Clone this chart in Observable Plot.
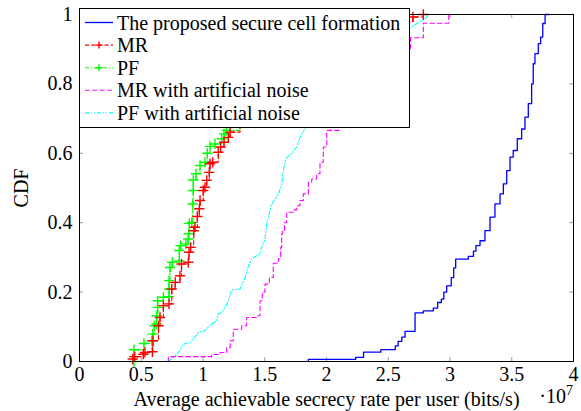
<!DOCTYPE html>
<html><head><meta charset="utf-8">
<script src="https://cdn.jsdelivr.net/npm/d3@7"></script>
<script src="https://cdn.jsdelivr.net/npm/@observablehq/plot@0.6"></script>
<style>body{margin:0;background:#fff;} svg{font-family:"Liberation Serif", serif;}</style>
</head><body><div id="chart"></div>
<script>
const seriesNames = ["The proposed secure cell formation", "MR", "PF", "MR with artificial noise", "PF with artificial noise"];
const xLabel = "Average achievable secrecy rate per user (bits/s)";
const yLabel = "CDF";
const xTicks = [0, 0.5, 1, 1.5, 2, 2.5, 3, 3.5, 4];
const yTicks = [0, 0.2, 0.4, 0.6, 0.8, 1];

// The proposed secure cell formation
const propX = [1.853, 1.853, 2.236, 2.30, 2.44, 2.557, 2.58, 2.61, 2.636, 2.717, 2.784, 2.865, 2.9, 2.93, 2.95, 2.973, 3.01, 3.03, 3.046, 3.148, 3.19, 3.21, 3.243, 3.283, 3.324, 3.364, 3.405, 3.432, 3.459, 3.486, 3.512, 3.545, 3.58, 3.607, 3.634, 3.661, 3.674, 3.688, 3.715, 3.734, 3.751, 3.77, 3.804];
const propY = [0, 0.006, 0.012, 0.027, 0.034, 0.045, 0.058, 0.07, 0.087, 0.14, 0.146, 0.154, 0.17, 0.18, 0.2, 0.218, 0.242, 0.27, 0.295, 0.303, 0.318, 0.334, 0.348, 0.377, 0.416, 0.454, 0.483, 0.512, 0.55, 0.589, 0.608, 0.642, 0.67, 0.704, 0.743, 0.80, 0.858, 0.887, 0.916, 0.935, 0.974, 1.0, 1.0];
// MR
const mrX = [0.431, 0.447, 0.517, 0.53, 0.59, 0.595, 0.64, 0.652, 0.679, 0.725, 0.747, 0.775, 0.814, 0.826, 0.881, 0.887, 0.90, 0.925, 0.935, 0.954, 0.97, 0.976, 1.002, 1.016, 1.03, 1.051, 1.057, 1.079, 1.124, 1.143, 1.17, 1.205, 1.219, 1.3, 1.4, 1.55, 1.75, 2.0, 2.4, 2.7, 2.784];
const mrY = [0.007, 0.014, 0.021, 0.026, 0.028, 0.06, 0.103, 0.127, 0.161, 0.166, 0.209, 0.228, 0.247, 0.281, 0.286, 0.315, 0.329, 0.377, 0.387, 0.418, 0.44, 0.464, 0.493, 0.502, 0.522, 0.545, 0.57, 0.574, 0.603, 0.618, 0.632, 0.646, 0.661, 0.70, 0.76, 0.83, 0.90, 0.95, 0.98, 0.993, 1.0];
// PF
const pfX = [0.441, 0.441, 0.441, 0.522, 0.585, 0.593, 0.606, 0.625, 0.625, 0.633, 0.633, 0.679, 0.725, 0.725, 0.725, 0.733, 0.751, 0.808, 0.808, 0.819, 0.862, 0.879, 0.884, 0.889, 0.909, 0.917, 0.921, 0.921, 0.943, 0.976, 1.016, 1.035, 1.057, 1.097, 1.151, 1.17, 1.192, 1.3, 1.45, 1.6, 1.8, 2.1, 2.4, 2.6];
const pfY = [0.0, 0.014, 0.034, 0.052, 0.06, 0.079, 0.103, 0.108, 0.132, 0.156, 0.175, 0.185, 0.187, 0.209, 0.233, 0.271, 0.286, 0.29, 0.32, 0.334, 0.339, 0.353, 0.368, 0.398, 0.401, 0.454, 0.493, 0.523, 0.541, 0.565, 0.574, 0.6, 0.62, 0.627, 0.642, 0.656, 0.666, 0.72, 0.8, 0.86, 0.92, 0.96, 0.99, 1.0];
// MR with artificial noise
const mrAnX = [0.719, 0.719, 1.07, 1.138, 1.192, 1.22, 1.245, 1.313, 1.354, 1.435, 1.462, 1.48, 1.502, 1.537, 1.569, 1.61, 1.629, 1.637, 1.645, 1.66, 1.678, 1.731, 1.759, 1.785, 1.812, 1.853, 1.88, 1.92, 1.947, 1.974, 2.002, 2.1, 2.25, 2.45, 2.68, 2.784, 2.99, 3.16];
const mrAnY = [0, 0.014, 0.02, 0.026, 0.04, 0.06, 0.093, 0.103, 0.127, 0.132, 0.175, 0.2, 0.223, 0.242, 0.283, 0.296, 0.329, 0.368, 0.377, 0.4, 0.43, 0.437, 0.449, 0.464, 0.483, 0.517, 0.526, 0.541, 0.574, 0.618, 0.666, 0.74, 0.82, 0.9, 0.933, 0.975, 1.0, 1.0];
// PF with artificial noise
const pfAnX = [0.719, 0.76, 0.8, 0.84, 0.895, 0.935, 0.962, 1.016, 1.057, 1.111, 1.124, 1.151, 1.192, 1.219, 1.232, 1.3, 1.34, 1.367, 1.394, 1.435, 1.462, 1.475, 1.502, 1.516, 1.556, 1.61, 1.637, 1.65, 1.672, 1.718, 1.759, 1.785, 1.818, 1.9, 2.0, 2.15, 2.3, 2.45, 2.69, 2.77, 2.8, 2.83, 2.92];
const pfAnY = [0, 0.012, 0.025, 0.05, 0.055, 0.071, 0.084, 0.089, 0.105, 0.117, 0.137, 0.141, 0.164, 0.19, 0.206, 0.209, 0.242, 0.274, 0.296, 0.305, 0.31, 0.33, 0.352, 0.397, 0.454, 0.482, 0.51, 0.55, 0.586, 0.599, 0.618, 0.646, 0.666, 0.72, 0.78, 0.84, 0.9, 0.93, 0.964, 0.983, 0.988, 1.0, 1.0];

const pts = (xs, ys) => xs.map((x, i) => ({x, y: ys[i]}));

const styles = [
  {color: "#0000ff", dash: null, width: 1.3, curve: "step-after", marker: false},
  {color: "#ff0000", dash: "4,2.5", width: 1.1, curve: "step-after", marker: true},
  {color: "#00ff00", dash: "4,2,1,2", width: 1.1, curve: "step-after", marker: true},
  {color: "#ff00ff", dash: "4.5,3", width: 1.1, curve: "step-after", marker: false},
  {color: "#00ffff", dash: "4,2,1,2,1,2", width: 1.1, curve: "linear", marker: false}
];
const datasets = [pts(propX, propY), pts(mrX, mrY), pts(pfX, pfY), pts(mrAnX, mrAnY), pts(pfAnX, pfAnY)];

const W = 581, H = 411, mL = 79, mR = 8, mT = 14, mB = 50;
const pw = W - mL - mR, ph = H - mT - mB, tl = 4;
const FS = 20;
const fmt = d => String(d);

const lineMarks = [];
[4, 3, 2, 1, 0].forEach(i => {
  const s = styles[i];
  lineMarks.push(Plot.line(datasets[i], {x: "x", y: "y", curve: s.curve, stroke: s.color, strokeWidth: s.width, strokeDasharray: s.dash}));
  if (s.marker) lineMarks.push(Plot.dot(datasets[i], {x: "x", y: "y", symbol: "plus", r: 3.4, stroke: s.color, strokeWidth: 1.4}));
});

const plot = Plot.plot({
  width: W, height: H,
  marginLeft: mL, marginRight: mR, marginTop: mT, marginBottom: mB,
  style: {fontFamily: "Liberation Serif", fontSize: FS + "px", background: "white", color: "black", overflow: "visible"},
  x: {domain: [0, 4]},
  y: {domain: [0, 1]},
  marks: [
    Plot.tickX(xTicks, {x: d => d, stroke: "#999", insetTop: ph - tl}),
    Plot.tickX(xTicks, {x: d => d, stroke: "#999", insetBottom: ph - tl}),
    Plot.tickY(yTicks, {y: d => d, stroke: "#999", insetRight: pw - tl}),
    Plot.tickY(yTicks, {y: d => d, stroke: "#999", insetLeft: pw - tl}),
    ...lineMarks,
    Plot.frame({stroke: "black", strokeWidth: 1}),
    Plot.axisX(xTicks, {tickSize: 0, tickPadding: 5, tickFormat: fmt, fontSize: FS, label: xLabel, labelAnchor: "center", labelArrow: "none", labelOffset: 44}),
    Plot.axisY(yTicks, {tickSize: 0, tickPadding: 7, tickFormat: fmt, fontSize: FS, label: yLabel, labelAnchor: "center", labelArrow: "none", labelOffset: 66})
  ]
});
document.getElementById("chart").appendChild(plot);

const svg = d3.select(plot);
// exponent
const ex = svg.append("text").attr("x", W - 8).attr("y", 403).attr("text-anchor", "end").attr("font-size", FS).attr("fill", "black");
ex.append("tspan").text("·10");
ex.append("tspan").attr("dy", -8).attr("font-size", 14).text("7");

// legend
const lg = svg.append("g").attr("text-anchor", "start");
lg.append("rect").attr("x", 79.5).attr("y", 8.5).attr("width", 330).attr("height", 119).attr("fill", "white").attr("stroke", "black");
seriesNames.forEach((name, i) => {
  const s = styles[i];
  const cy = 22.5 + i * 22.6;
  lg.append("line").attr("x1", 85).attr("x2", 113).attr("y1", cy).attr("y2", cy)
    .attr("stroke", s.color).attr("stroke-width", s.width).attr("stroke-dasharray", s.dash);
  if (s.marker) lg.append("path").attr("d", `M95.5,${cy}h7M99,${cy - 3.5}v7`).attr("stroke", s.color).attr("stroke-width", 1.4).attr("fill", "none");
  lg.append("text").attr("x", 117).attr("y", cy).attr("dy", "0.35em").attr("text-anchor", "start").attr("font-size", FS).attr("fill", "black").text(name);
});
</script>
</body></html>
